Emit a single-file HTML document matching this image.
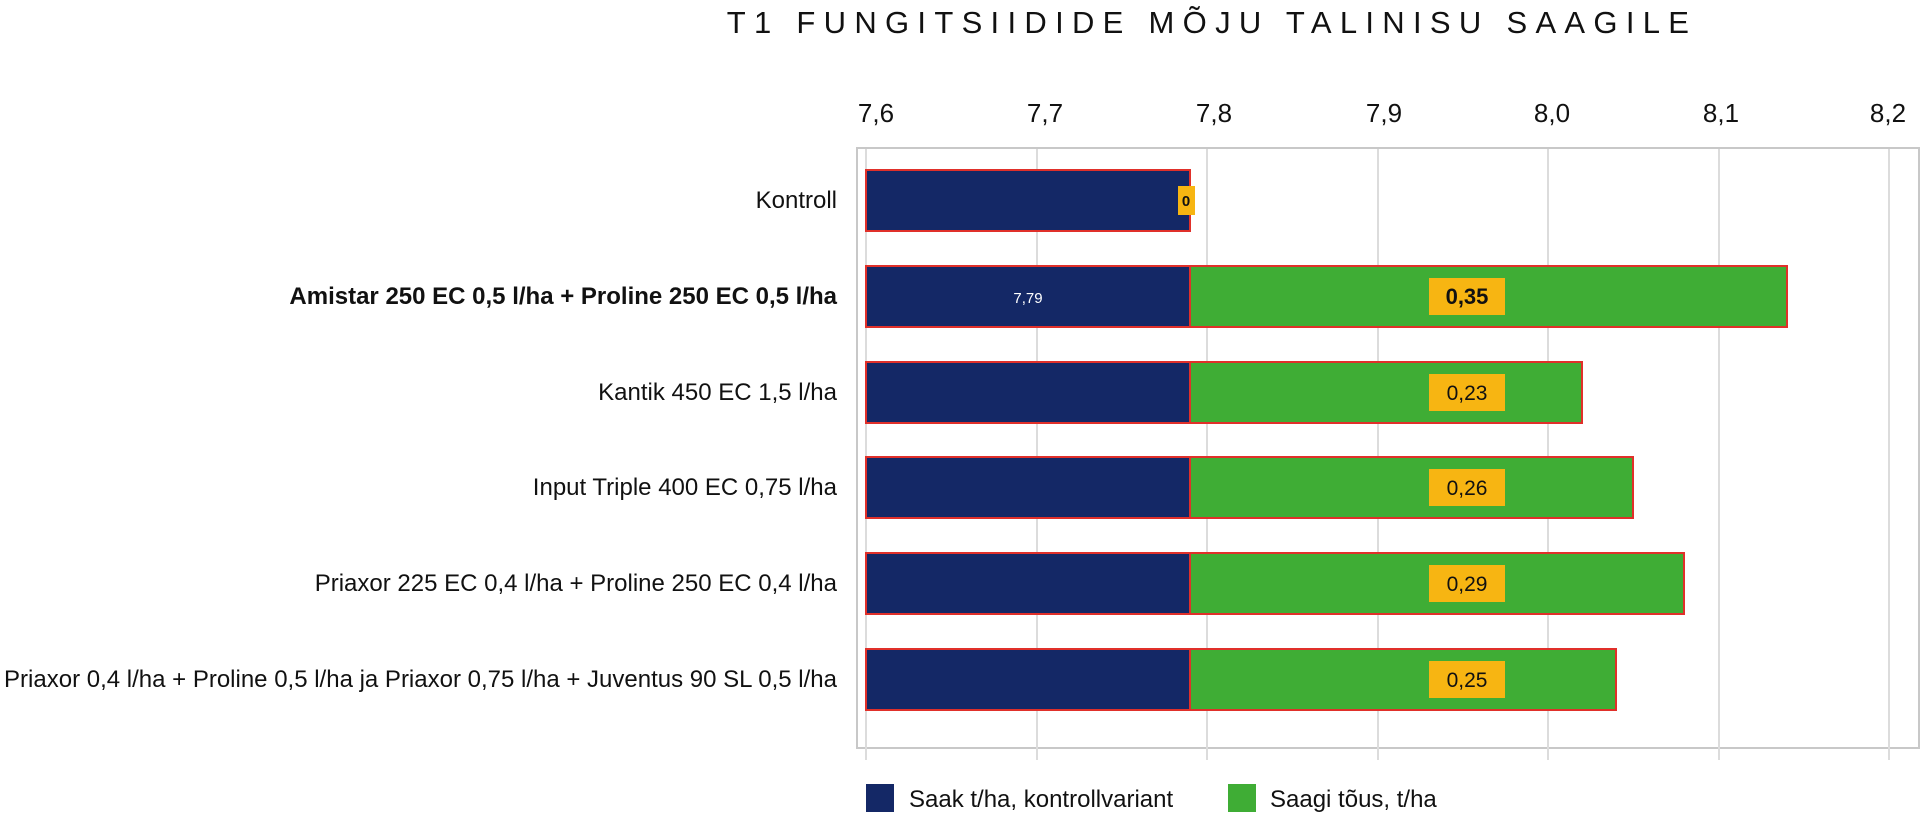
<!DOCTYPE html>
<html><head><meta charset="utf-8"><style>
html,body{margin:0;padding:0;background:#fff;}
text{font-family:"Liberation Sans",Arial,sans-serif;}
</style></head><body>
<svg width="1920" height="814" xmlns="http://www.w3.org/2000/svg">
<text x="1212" y="33" font-size="31" text-anchor="middle" letter-spacing="8.3" fill="#111">T1 FUNGITSIIDIDE MÕJU TALINISU SAAGILE</text>
<rect x="857" y="148" width="1062" height="600" fill="#fff" stroke="#c8c8c8" stroke-width="2"/>
<g stroke="#dcdcdc" stroke-width="2">
<line x1="866" y1="149" x2="866" y2="760"/>
<line x1="1037" y1="149" x2="1037" y2="760"/>
<line x1="1207" y1="149" x2="1207" y2="760"/>
<line x1="1378" y1="149" x2="1378" y2="760"/>
<line x1="1548" y1="149" x2="1548" y2="760"/>
<line x1="1719" y1="149" x2="1719" y2="760"/>
<line x1="1889" y1="149" x2="1889" y2="760"/>
</g>
<g font-size="26" fill="#111" text-anchor="middle">
<text x="876" y="122">7,6</text><text x="1045" y="122">7,7</text><text x="1214" y="122">7,8</text>
<text x="1384" y="122">7,9</text><text x="1552" y="122">8,0</text><text x="1721" y="122">8,1</text><text x="1888" y="122">8,2</text>
</g>
<g stroke="#e0302a" stroke-width="2">
<rect x="866" y="170" width="324" height="61" fill="#142866"/>
<rect x="866" y="266" width="324" height="61" fill="#142866"/>
<rect x="1190" y="266" width="597" height="61" fill="#3fad35"/>
<rect x="866" y="362" width="324" height="61" fill="#142866"/>
<rect x="1190" y="362" width="392" height="61" fill="#3fad35"/>
<rect x="866" y="457" width="324" height="61" fill="#142866"/>
<rect x="1190" y="457" width="443" height="61" fill="#3fad35"/>
<rect x="866" y="553" width="324" height="61" fill="#142866"/>
<rect x="1190" y="553" width="494" height="61" fill="#3fad35"/>
<rect x="866" y="649" width="324" height="61" fill="#142866"/>
<rect x="1190" y="649" width="426" height="61" fill="#3fad35"/>
</g>
<g font-size="24" fill="#111" text-anchor="end">
<text x="837" y="208">Kontroll</text>
<text x="837" y="304" font-weight="bold">Amistar 250 EC 0,5 l/ha  + Proline 250 EC 0,5 l/ha</text>
<text x="837" y="400">Kantik 450 EC 1,5 l/ha</text>
<text x="837" y="495">Input Triple 400 EC 0,75 l/ha</text>
<text x="837" y="591">Priaxor 225 EC 0,4 l/ha + Proline 250 EC 0,4 l/ha</text>
<text x="837" y="687">Priaxor 0,4 l/ha + Proline 0,5 l/ha ja Priaxor 0,75 l/ha + Juventus 90 SL 0,5 l/ha</text>
</g>
<rect x="1178" y="186" width="17" height="29" fill="#f7b512"/>
<text x="1186" y="206" font-size="15" font-weight="bold" text-anchor="middle" fill="#111">0</text>
<text x="1028" y="303" font-size="15" text-anchor="middle" fill="#fff">7,79</text>
<g fill="#f7b512">
<rect x="1429" y="278" width="76" height="37"/>
<rect x="1429" y="374" width="76" height="37"/>
<rect x="1429" y="469" width="76" height="37"/>
<rect x="1429" y="565" width="76" height="37"/>
<rect x="1429" y="661" width="76" height="37"/>
</g>
<g font-size="21" text-anchor="middle" fill="#111">
<text x="1467" y="304" font-weight="bold" font-size="22">0,35</text>
<text x="1467" y="400">0,23</text>
<text x="1467" y="495">0,26</text>
<text x="1467" y="591">0,29</text>
<text x="1467" y="687">0,25</text>
</g>
<rect x="866" y="784" width="28" height="28" fill="#142866"/>
<text x="909" y="807" font-size="24" fill="#111">Saak t/ha, kontrollvariant</text>
<rect x="1228" y="784" width="28" height="28" fill="#3fad35"/>
<text x="1270" y="807" font-size="24" fill="#111">Saagi tõus, t/ha</text>
</svg>
</body></html>
